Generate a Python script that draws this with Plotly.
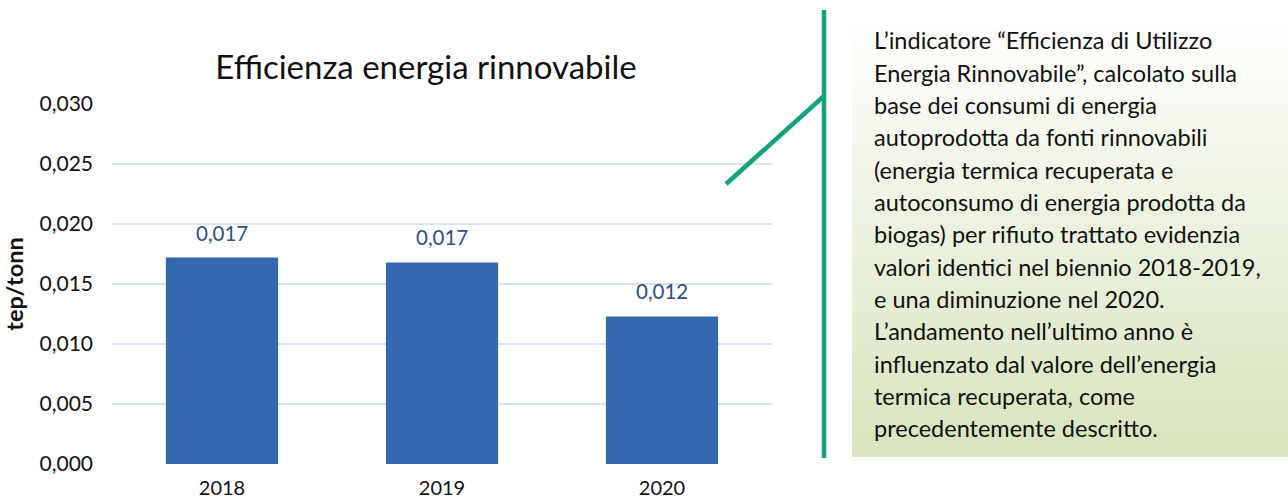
import plotly.graph_objects as go

# ---- data ----
years = ["2018", "2019", "2020"]
values = [0.0172, 0.0168, 0.0123]
y_ticks = [0.0, 0.005, 0.010, 0.015, 0.020, 0.025, 0.030]
title_text = "Efficienza energia rinnovabile"
y_title = "tep/tonn"
note_lines = [
    "L’indicatore “Efficienza di Utilizzo",
    "Energia Rinnovabile”, calcolato sulla",
    "base dei consumi di energia",
    "autoprodotta da fonti rinnovabili",
    "(energia termica recuperata e",
    "autoconsumo di energia prodotta da",
    "biogas) per rifiuto trattato evidenzia",
    "valori identici nel biennio 2018-2019,",
    "e una diminuzione nel 2020.",
    "L’andamento nell’ultimo anno è",
    "influenzato dal valore dell’energia",
    "termica recuperata, come",
    "precedentemente descritto.",
]

W, H = 1288, 503
PL, PR, PT, PB = 112, 772, 104, 464
FONT = "Lato"


def px2x(px):
    return (px - PL) / (PR - PL)


def py2y(py):
    return (PB - py) / (PB - PT)


def fmt(v):
    return f"{v:.3f}".replace(".", ",")


fig = go.Figure()
fig.add_trace(go.Bar(
    x=years, y=values,
    marker=dict(color="#3469B0", line=dict(width=0)),
    hoverinfo="x+y",
))

annotations = []
for i, v in enumerate(values):
    annotations.append(dict(
        x=i, y=v, xref="x", yref="y", text=fmt(v), showarrow=False,
        yshift=25, yanchor="middle", xanchor="center",
        font=dict(family=FONT, size=20.5, color="#2C4F86"),
    ))

# text box lines
line0, step = 40.5, 32.3
for i, ln in enumerate(note_lines):
    annotations.append(dict(
        x=px2x(872), y=py2y(line0 + i * step), xref="paper", yref="paper",
        text=ln, showarrow=False, xanchor="left", yanchor="middle",
        font=dict(family=FONT, size=23.5, color="#111111"),
    ))

shapes = []
# gradient box background (white -> light green)
top_c = (255, 255, 255)
bot_c = (215, 228, 188)
box_top, box_bot = 20, 457
n = 60
hgt = (box_bot - box_top) / n
for i in range(n):
    t = (i + 0.5) / n
    c = tuple(round(top_c[k] + (bot_c[k] - top_c[k]) * t) for k in range(3))
    y0 = box_top + i * hgt
    y1 = y0 + hgt + 0.6
    shapes.append(dict(
        type="rect", xref="paper", yref="paper",
        x0=px2x(852), x1=px2x(1290), y0=py2y(min(y1, box_bot)), y1=py2y(y0),
        fillcolor=f"rgb{c}", line=dict(width=0), layer="below",
    ))

green = "#12A37C"
shapes.append(dict(type="line", xref="paper", yref="paper",
                   x0=px2x(824), x1=px2x(824), y0=py2y(458), y1=py2y(10),
                   line=dict(color=green, width=4.5)))
shapes.append(dict(type="line", xref="paper", yref="paper",
                   x0=px2x(726), x1=px2x(824), y0=py2y(184), y1=py2y(96),
                   line=dict(color=green, width=4.5)))

fig.update_layout(
    width=W, height=H,
    margin=dict(l=PL, r=W - PR, t=PT, b=H - PB, pad=0, autoexpand=False),
    paper_bgcolor="white", plot_bgcolor="white",
    separators=",.",
    showlegend=False,
    bargap=0.49,
    title=dict(text=title_text, xref="paper", x=px2x(426), xanchor="center",
               yref="container", y=1 - 67 / H, yanchor="middle",
               font=dict(family=FONT, size=33, color="#111111")),
    xaxis=dict(type="category", range=[-0.5, 2.5], showgrid=False,
               showline=False, zeroline=False, ticks="", automargin=False,
               ticklabelstandoff=10,
               tickfont=dict(family=FONT, size=20, color="#111111")),
    yaxis=dict(range=[0, 0.030], tickvals=y_ticks, tickformat=".3f",
               showgrid=True, gridcolor="#D9E4F2", gridwidth=2,
               zeroline=False, showline=False, ticks="", automargin=False,
               ticklabelstandoff=18,
               tickfont=dict(family=FONT, size=21, color="#111111"),
               title=dict(text=f"<b>{y_title}</b>", standoff=9,
                          font=dict(family=FONT, size=23.5, color="#111111"))),
    annotations=annotations,
    shapes=shapes,
)

fig.write_html(
    "out.html",
    config={"displayModeBar": False},
    post_script="document.body.style.margin='0';document.body.style.padding='0';",
)
